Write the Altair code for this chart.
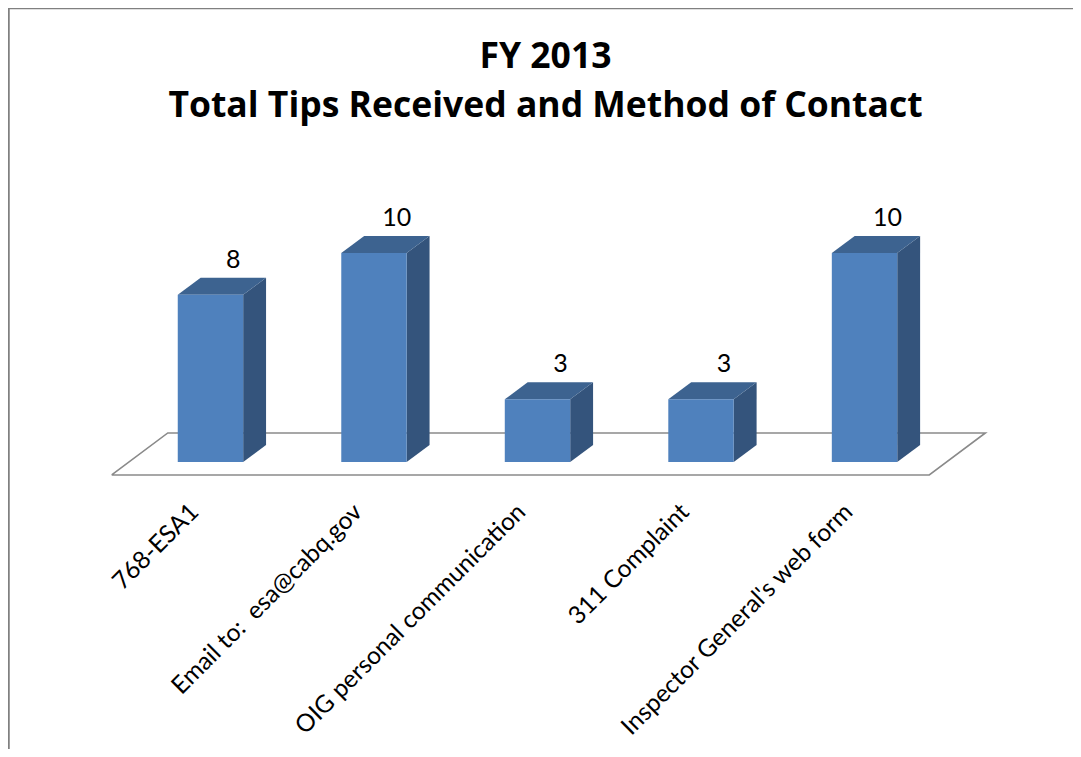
import json
import altair as alt
import pandas as pd

# ---- data ----
categories = [
    "768-ESA1",
    "Email to:\u00a0 esa@cabq.gov",
    "OIG personal communication",
    "311 Complaint",
    "Inspector General's web form",
]
tips = [8, 10, 3, 3, 10]

title_lines = ["FY 2013", "Total Tips Received and Method of Contact"]

# ---- styling constants (3-D look) ----
BAR_HALF = 0.2      # half bar width in category units
DEPTH_X = 0.14      # depth of bar in category units
DEPTH_Y = 0.813     # depth of bar in value units
FLOOR_FRONT = (-0.104, -0.622)
FLOOR_BACK = (0.239, 1.388)

FRONT_COL = "#4F81BD"
SIDE_COL = "#34547C"
TOP_COL = "#3D6390"
FONT = "Lato"
TITLE_FONT = "Open Sans"

idx = list(range(len(categories)))

front = pd.DataFrame({"i": idx, "cat": categories, "tips": tips})
front["x0"] = front["i"] - BAR_HALF
front["x1"] = front["i"] + BAR_HALF
front["lx"] = front["i"] + DEPTH_X
front["ly"] = front["tips"] + DEPTH_Y
front["y0"] = 0

side_rows, top_rows = [], []
for i, v in zip(idx, tips):
    xr = i + BAR_HALF
    xl = i - BAR_HALF
    side_rows.append({"i": i, "x": xr, "lo": 0, "hi": v})
    side_rows.append({"i": i, "x": xr + DEPTH_X, "lo": DEPTH_Y, "hi": v + DEPTH_Y})
    top_rows.append({"i": i, "x": xl, "lo": v, "hi": v})
    top_rows.append({"i": i, "x": xl + DEPTH_X, "lo": v, "hi": v + DEPTH_Y})
    top_rows.append({"i": i, "x": xr, "lo": v, "hi": v + DEPTH_Y})
    top_rows.append({"i": i, "x": xr + DEPTH_X, "lo": v + DEPTH_Y, "hi": v + DEPTH_Y})
side = pd.DataFrame(side_rows)
top = pd.DataFrame(top_rows)

n = len(categories)
left, right = -0.5, n - 0.5
floor = pd.DataFrame({
    "o": [0, 1, 2, 3, 4],
    "x": [left + FLOOR_FRONT[0], right + FLOOR_FRONT[0], right + FLOOR_BACK[0],
          left + FLOOR_BACK[0], left + FLOOR_FRONT[0]],
    "y": [FLOOR_FRONT[1], FLOOR_FRONT[1], FLOOR_BACK[1], FLOOR_BACK[1], FLOOR_FRONT[1]],
})

W, H = 899, 301
PAD = {"left": 88, "top": 172, "right": 78, "bottom": 268}

xscale = alt.Scale(domain=[-0.7, 4.798], nice=False, zero=False)
yscale = alt.Scale(domain=[-0.91, 13.49], nice=False, zero=False)

label_expr = "[" + ",".join(json.dumps(c) for c in categories) + "][datum.value]"
xaxis = alt.Axis(
    values=idx, labelExpr=label_expr, title=None, domain=False, ticks=False,
    grid=False, labelAngle=315, labelAlign="right", labelBaseline="alphabetic",
    labelPadding=32, labelOffset=-11, labelFont=FONT, labelFontSize=24.5,
    labelColor="#000000", labelOverlap=False, labelFlush=False, labelBound=False,
    labelLimit=0,
)


def X(field):
    return alt.X(field, type="quantitative", scale=xscale, axis=xaxis)


def Y(field):
    return alt.Y(field, type="quantitative", scale=yscale, axis=None)


floor_layer = alt.Chart(floor).mark_line(color="#8a8a8a", strokeWidth=1.6).encode(
    x=X("x"), y=Y("y"), order="o:Q"
)

front_layer = alt.Chart(front).mark_rect(color=FRONT_COL).encode(
    x=X("x0"), x2="x1", y=Y("y0"), y2="tips"
)

side_layer = alt.Chart(side).mark_area(color=SIDE_COL, opacity=1).encode(
    x=X("x"), y=Y("lo"), y2="hi", detail="i:N"
)

top_layer = alt.Chart(top).mark_area(color=TOP_COL, opacity=1).encode(
    x=X("x"), y=Y("lo"), y2="hi", detail="i:N"
)

text_layer = alt.Chart(front).mark_text(
    font=FONT, fontSize=25, color="#000000", baseline="alphabetic", dy=-10
).encode(x=X("lx"), y=Y("ly"), text="tips:Q")

one = pd.DataFrame({"k": [0]})
border_top = alt.Chart(one).mark_rule(color="#808080", strokeWidth=1.5).encode(
    x=alt.value(-PAD["left"]), x2=alt.value(W + PAD["right"]), y=alt.value(-PAD["top"] + 0.5)
)
border_left = alt.Chart(one).mark_rule(color="#808080", strokeWidth=2.5).encode(
    x=alt.value(-PAD["left"] + 0.5), y=alt.value(-PAD["top"]), y2=alt.value(H + PAD["bottom"])
)

chart = alt.layer(
    floor_layer, side_layer, top_layer, front_layer, text_layer, border_top, border_left
).properties(
    width=W,
    height=H,
    padding=PAD,
    autosize=alt.AutoSizeParams(type="none"),
    title=alt.TitleParams(
        text=title_lines, font=TITLE_FONT, fontSize=35.5, fontWeight="bold", color="#000000",
        anchor="middle", frame="group", lineHeight=49, baseline="alphabetic", offset=-146,
    ),
).configure(background="#ffffff", view=alt.ViewConfig(stroke=None))

chart.save("out.html", embed_options={"renderer": "svg", "actions": False})
